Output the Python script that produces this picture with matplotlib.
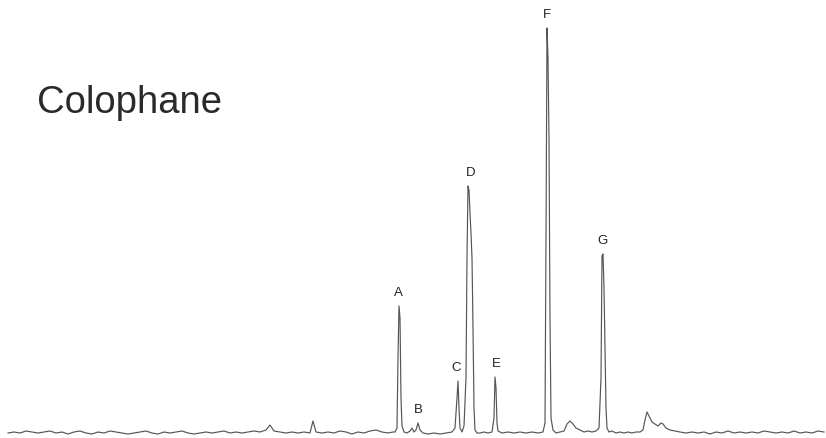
import matplotlib.pyplot as plt

# Chromatogram trace (retention axis ~ px, signal ~ px above bottom)
rt = [8, 14, 20, 26, 32, 38, 44, 50, 56, 62,
      68, 74, 80, 86, 92, 98, 104, 110, 116, 122,
      128, 134, 140, 146, 152, 158, 164, 170, 176, 182,
      188, 194, 200, 206, 212, 218, 224, 230, 236, 242,
      248, 254, 260, 266, 270, 274, 280, 286, 292, 298,
      304, 310, 313, 316, 322, 328, 334, 340, 346, 352,
      358, 364, 370, 376, 382, 388, 393,
      395, 397, 398, 399, 400, 401, 402, 404, 407, 410,
      412, 414, 416, 418, 420, 423, 428, 434, 440, 446,
      452, 455, 457, 458, 459, 460, 462, 464, 466, 467,
      468, 469, 470, 471, 472, 473, 474, 475, 477, 480,
      484, 488, 492, 494, 495, 496, 497, 498, 502, 508,
      514, 520, 526, 532, 538, 543, 545, 546, 547, 548,
      549, 550, 551, 553, 556, 560, 564, 567, 570, 573,
      576, 580, 584, 588, 592, 596, 599, 601, 602, 603,
      604, 605, 606, 607, 609, 612, 616, 620, 624, 628,
      632, 636, 640, 643, 645, 647, 649, 652, 655, 658,
      661, 663, 666, 670, 675, 680, 686, 692, 698, 704,
      710, 716, 722, 728, 734, 740, 746, 752, 758, 764,
      770, 776, 782, 788, 794, 800, 806, 812, 818, 824]
signal = [5, 6, 5, 7, 6, 5, 6, 7, 5, 6,
          4, 6, 7, 5, 4, 6, 5, 7, 6, 5,
          4, 5, 6, 7, 5, 4, 6, 5, 6, 7,
          5, 4, 5, 6, 5, 6, 7, 5, 6, 5,
          6, 7, 6, 8, 13, 7, 6, 5, 6, 5,
          6, 5, 17, 6, 5, 6, 5, 7, 6, 4,
          6, 5, 7, 8, 6, 5, 6,
          6, 10, 80, 132, 120, 40, 12, 6, 5, 7,
          10, 6, 8, 15, 8, 5, 4, 5, 4, 5,
          6, 10, 40, 57, 30, 10, 6, 12, 60, 180,
          252, 248, 225, 205, 180, 110, 30, 8, 5, 5,
          6, 5, 6, 20, 61, 50, 15, 7, 5, 6,
          5, 6, 5, 6, 5, 6, 15, 200, 410, 380,
          300, 120, 20, 8, 5, 6, 7, 14, 17, 14,
          10, 8, 6, 7, 6, 7, 10, 60, 182, 184,
          150, 90, 30, 10, 6, 7, 5, 6, 5, 6,
          5, 6, 6, 8, 18, 26, 22, 16, 14, 12,
          15, 14, 10, 8, 7, 6, 5, 6, 5, 6,
          4, 6, 5, 7, 5, 6, 5, 6, 5, 7,
          6, 5, 6, 5, 7, 5, 6, 5, 7, 6]

# Peak labels
peak_labels = ['A', 'B', 'C', 'D', 'E', 'F', 'G']
peak_rt = [398, 418, 456, 471, 496, 547, 602]
peak_height = [132, 15, 57, 252, 61, 410, 184]

title = 'Colophane'

fig = plt.figure(figsize=(8.26, 4.38), dpi=100)
ax = fig.add_axes([0, 0, 1, 1])
ax.plot(rt, signal, color='#555555', linewidth=0.85)

for lab, x, h in zip(peak_labels, peak_rt, peak_height):
    ax.text(x, h + 13, lab, ha='center', va='center', fontsize=9.5,
            family='Liberation Sans', color='#222222')

ax.text(37, 335, title, ha='left', va='center', fontsize=27.5,
        family='Liberation Sans', color='#2a2a2a')

ax.set_xlim(0, 826)
ax.set_ylim(0, 438)
ax.axis('off')

fig.savefig('out.png', dpi=100, facecolor='white')
